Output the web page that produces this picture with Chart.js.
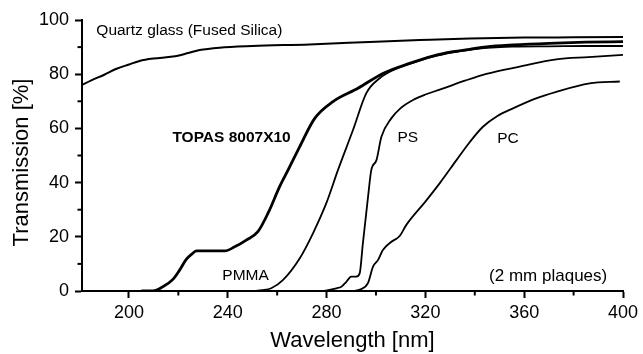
<!DOCTYPE html>
<html><head><meta charset="utf-8">
<script src="https://cdn.jsdelivr.net/npm/chart.js@4/dist/chart.umd.min.js"></script>
<style>html,body{margin:0;padding:0;background:#fff}#wrap{width:643px;height:354px;position:relative}</style>
</head><body><div id="wrap"><canvas id="c" width="643" height="354"></canvas></div>
<script>
// ---- data (wavelength in nm, transmission in %) ----
const quartzNm = [180, 185, 190, 195, 200, 204.3, 210, 217.8, 224, 228.6, 236.7, 250, 273, 300, 317.7, 338, 360, 380, 400];
const quartzT  = [75.6, 77.8, 79.8, 82, 83.6, 84.9, 85.8, 86.5, 87.8, 88.9, 89.8, 90.4, 91, 92, 92.6, 93.2, 93.5, 93.6, 93.7];

const topasNm = [205, 209.7, 213.8, 217.8, 220.5, 223.2, 225.3, 227.3, 238.8, 242.8, 247.5, 252.2, 256.3, 261, 264.4, 269.1, 275.2, 282.6, 292.7, 302.8, 313.6, 323, 331.2, 337.9, 344.7, 355.5, 370, 385, 400];
const topasT  = [0, 0, 1.6, 4.3, 7.7, 11.7, 13.5, 14.8, 14.8, 16.3, 18.8, 21.9, 28.7, 38.5, 44.6, 53.2, 63.7, 69.9, 74.8, 80.3, 84, 86.7, 88.3, 89.2, 90.1, 90.8, 91.4, 91.8, 92];

const pmmaNm = [250, 254, 257.6, 262.3, 269.1, 274.5, 279.9, 284.6, 290.7, 296.1, 301.5, 306.9, 313.6, 323, 331.2, 338, 345, 355, 370, 385, 400];
const pmmaT  = [0, 0.3, 1, 4, 12, 21.3, 32.4, 44.6, 59.4, 73, 78.5, 81.5, 83.8, 86.5, 88.1, 89, 89.7, 90.2, 90.3, 90.4, 90.4];

const psNm = [279, 284, 286, 288, 290, 292, 293.4, 294.7, 296.8, 298.1, 300.2, 302.2, 306.2, 310, 315, 320, 325.8, 331, 336, 344.7, 358.2, 373, 386, 400];
const psT  = [0, 1, 1.6, 3.4, 5.3, 5.3, 6.5, 17.6, 34.8, 44.6, 48.3, 56.9, 63.7, 67.5, 70.5, 72.5, 74.3, 76, 77.6, 80.1, 82.8, 85.5, 86.3, 87.1];

const pcNm = [291, 293.5, 296.8, 298.8, 300.8, 302.8, 306, 309.6, 312.3, 320, 326, 332.6, 338, 343.3, 349, 355.5, 364, 373, 386.5, 398.7];
const pcT  = [0, 0.5, 3, 9, 11.4, 15.1, 18, 20.3, 24.4, 33, 40, 48.3, 55, 60.6, 64.5, 67.4, 70.8, 73.5, 76.6, 77.3];

// ---- axes ----
const xMin = 181, xMax = 400;
const xTickValues  = [200, 220, 240, 260, 280, 300, 320, 340, 360, 380, 400];
const xLabelValues = [200, 240, 280, 320, 360, 400];
const yTickValues  = [0, 10, 20, 30, 40, 50, 60, 70, 80, 90, 100];
const yLabelValues = [0, 20, 40, 60, 80, 100];

// ---- in-plot labels (anchored in data coordinates) ----
const labelTexts = ['Quartz glass (Fused Silica)', 'TOPAS 8007X10', 'PMMA', 'PS', 'PC', '(2 mm plaques)'];
const labelNm    = [186.8, 217.6, 237.8, 308.7, 349.1, 345.8];
const labelT     = [96, 56.7, 5.5, 56.7, 56.3, 5.3];
const labelBold  = [false, true, false, false, false, false];
const labelSize  = [15.5, 15.5, 15.5, 15.5, 15.5, 17];

const FONT = "'Liberation Sans', Arial, Helvetica, sans-serif";
const pts = (xs, ys) => xs.map((v, i) => ({x: v, y: ys[i]}));

function series(label, xs, ys, w) {
  return {label, data: pts(xs, ys), borderColor: '#000', backgroundColor: '#000',
    borderWidth: w, pointRadius: 0, fill: false, cubicInterpolationMode: 'monotone', tension: 0.3};
}

const extras = {
  id: 'extras',
  afterDraw(chart) {
    const {ctx, scales: {x, y}} = chart;
    ctx.save();
    ctx.strokeStyle = '#000';
    ctx.lineWidth = 2;
    yTickValues.filter(v => !yLabelValues.includes(v)).forEach(v => {
      const py = y.getPixelForValue(v);
      ctx.beginPath(); ctx.moveTo(x.left - 4.5, py); ctx.lineTo(x.left, py); ctx.stroke();
    });
    xTickValues.filter(v => !xLabelValues.includes(v)).forEach(v => {
      const px = x.getPixelForValue(v);
      ctx.beginPath(); ctx.moveTo(px, y.bottom); ctx.lineTo(px, y.bottom + 4.5); ctx.stroke();
    });
    ctx.fillStyle = '#000';
    ctx.textBaseline = 'middle';
    ctx.textAlign = 'left';
    labelTexts.forEach((t, i) => {
      ctx.font = (labelBold[i] ? 'bold ' : '') + labelSize[i] + 'px ' + FONT;
      ctx.fillText(t, x.getPixelForValue(labelNm[i]), y.getPixelForValue(labelT[i]));
    });
    // y axis title
    ctx.translate(21.6, 162.5);
    ctx.rotate(-Math.PI / 2);
    ctx.textAlign = 'center';
    ctx.font = '22px ' + FONT;
    ctx.fillText('Transmission [%]', 0, 0);
    ctx.restore();
  }
};

new Chart(document.getElementById('c'), {
  type: 'line',
  data: {datasets: [
    series('Quartz glass (Fused Silica)', quartzNm, quartzT, 2),
    series('TOPAS 8007X10', topasNm, topasT, 2.8),
    series('PMMA', pmmaNm, pmmaT, 1.8),
    series('PS', psNm, psT, 1.8),
    series('PC', pcNm, pcT, 1.8)
  ]},
  options: {
    responsive: false, animation: false, devicePixelRatio: 1,
    layout: {padding: {top: 20, right: 20, left: 0, bottom: 0}},
    plugins: {legend: {display: false}, tooltip: {enabled: false}},
    scales: {
      x: {
        type: 'linear', min: xMin, max: xMax,
        afterBuildTicks: s => { s.ticks = xTickValues.map(v => ({value: v})); },
        afterFit: s => { s.height = 63; },
        grid: {drawOnChartArea: false, tickLength: 7, tickWidth: 2,
          tickColor: c => xLabelValues.includes(c.tick && c.tick.value) ? '#000' : 'rgba(0,0,0,0)'},
        border: {display: true, color: '#000', width: 2},
        ticks: {color: '#000', font: {family: FONT, size: 18}, padding: 4, maxRotation: 0, autoSkip: false,
          callback: v => xLabelValues.includes(v) ? String(v) : ''},
        title: {display: true, text: 'Wavelength [nm]', color: '#000',
          font: {family: FONT, size: 22, lineHeight: 1}, padding: {top: 0, bottom: 2}}
      },
      y: {
        type: 'linear', min: 0, max: 100,
        afterBuildTicks: s => { s.ticks = yTickValues.map(v => ({value: v})); },
        afterFit: s => { s.width = 82; },
        grid: {drawOnChartArea: false, tickLength: 7, tickWidth: 2,
          tickColor: c => yLabelValues.includes(c.tick && c.tick.value) ? '#000' : 'rgba(0,0,0,0)'},
        border: {display: true, color: '#000', width: 2},
        ticks: {color: '#000', font: {family: FONT, size: 18}, padding: 6, autoSkip: false,
          callback: v => yLabelValues.includes(v) ? String(v) : ''},
        title: {display: false}
      }
    }
  },
  plugins: [extras]
});
</script>
</body></html>
